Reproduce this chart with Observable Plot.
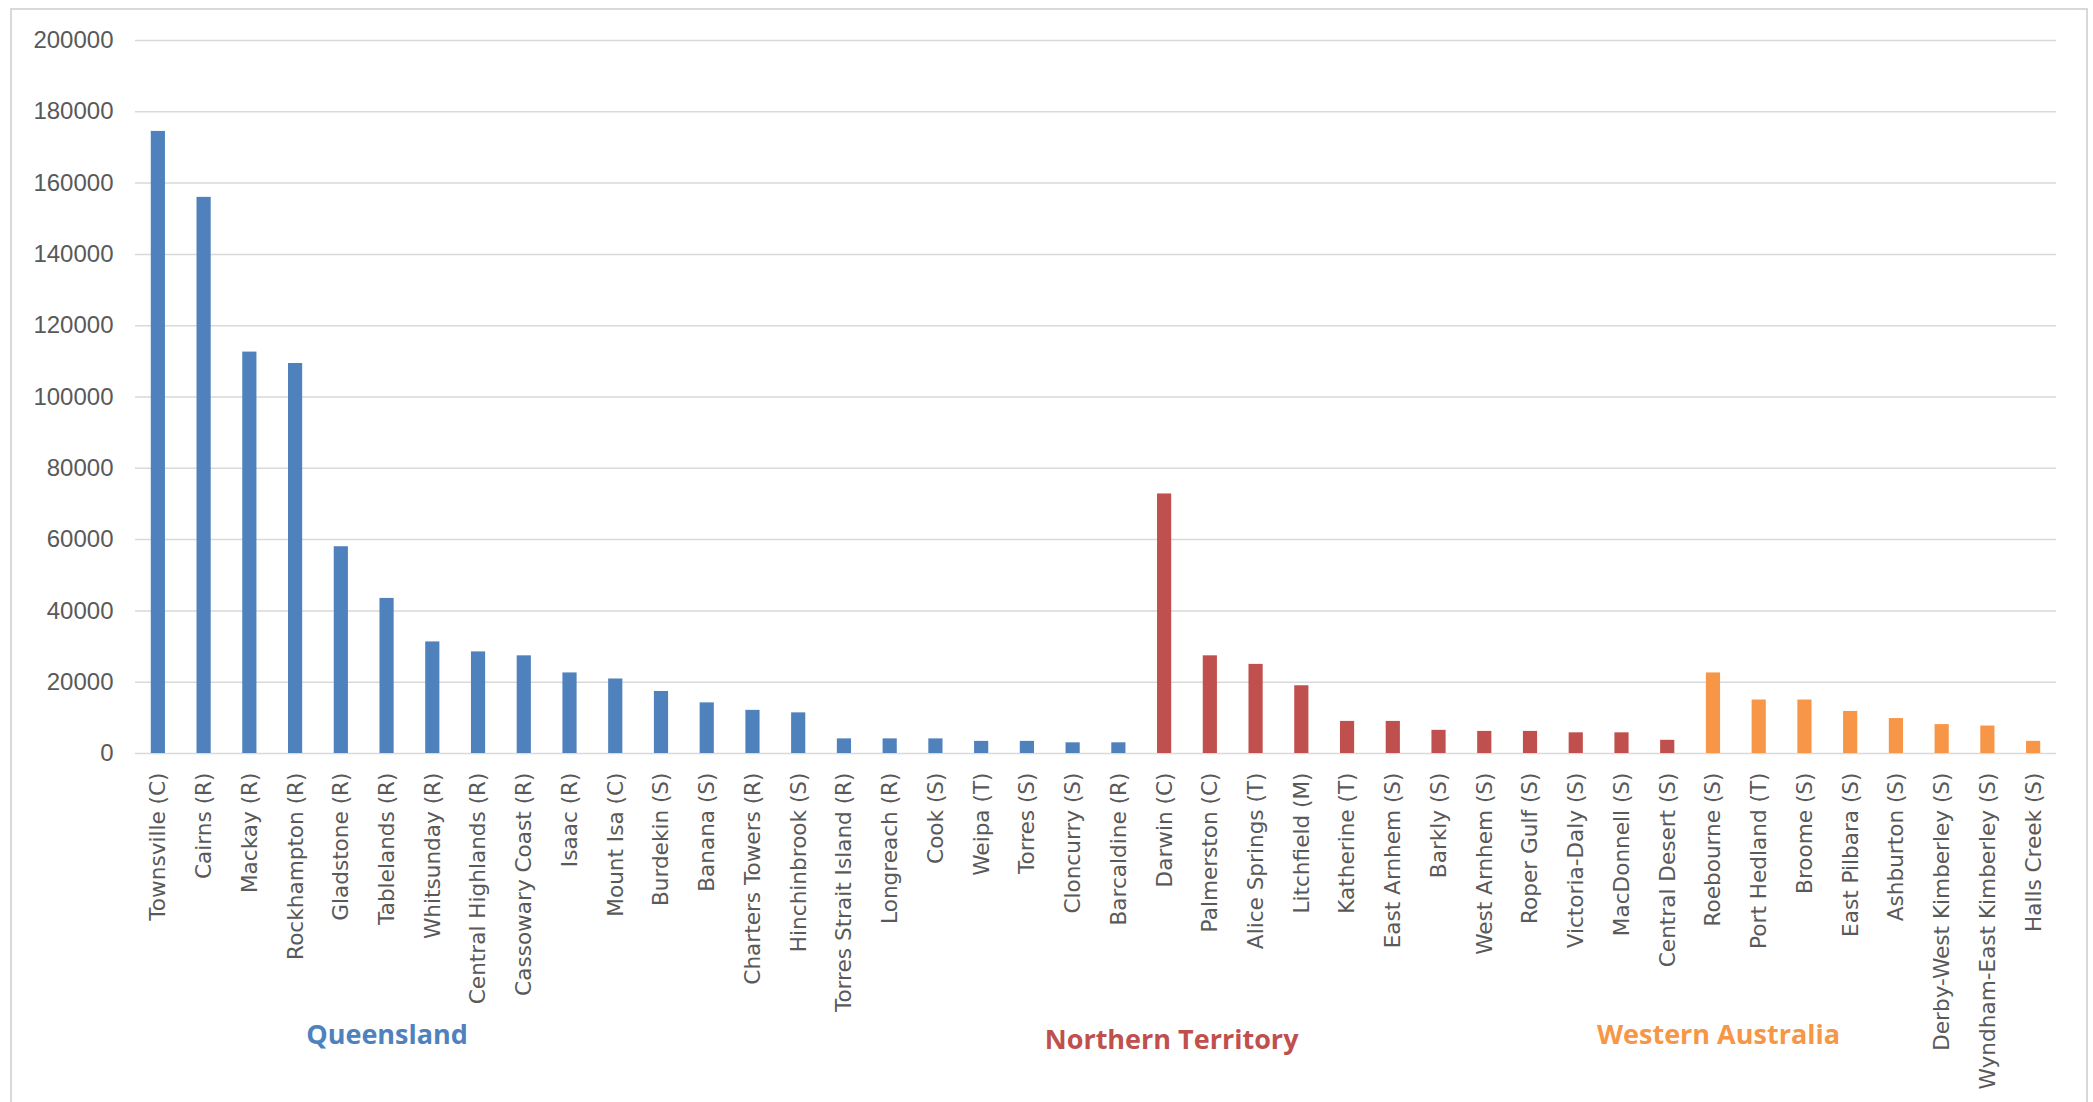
<!DOCTYPE html>
<html><head><meta charset="utf-8">
<script src="https://cdn.jsdelivr.net/npm/d3@7"></script>
<script src="https://cdn.jsdelivr.net/npm/@observablehq/plot@0.6"></script>
<style>
html,body{margin:0;padding:0;background:#fff;}
#wrap{position:relative;width:2093px;height:1102px;overflow:hidden;}
#wrap svg{position:absolute;left:0;top:0;}
#frame{position:absolute;left:10px;top:8px;width:2078px;height:1100px;border:2px solid #d9d9d9;box-sizing:border-box;pointer-events:none;}
</style></head><body><div id="wrap"><div id="frame"></div></div>
<script>
const qldNames = ["Townsville (C)","Cairns (R)","Mackay (R)","Rockhampton (R)","Gladstone (R)","Tablelands (R)","Whitsunday (R)","Central Highlands (R)","Cassowary Coast (R)","Isaac (R)","Mount Isa (C)","Burdekin (S)","Banana (S)","Charters Towers (R)","Hinchinbrook (S)","Torres Strait Island (R)","Longreach (R)","Cook (S)","Weipa (T)","Torres (S)","Cloncurry (S)","Barcaldine (R)"];
const qldValues = [174500,156000,112600,109400,58000,43500,31300,28500,27400,22600,20900,17400,14200,12100,11400,4100,4100,4100,3400,3400,3000,3000];
const ntNames = ["Darwin (C)","Palmerston (C)","Alice Springs (T)","Litchfield (M)","Katherine (T)","East Arnhem (S)","Barkly (S)","West Arnhem (S)","Roper Gulf (S)","Victoria-Daly (S)","MacDonnell (S)","Central Desert (S)"];
const ntValues = [72800,27400,25000,19000,9000,9000,6500,6200,6200,5800,5800,3700];
const waNames = ["Roebourne (S)","Port Hedland (T)","Broome (S)","East Pilbara (S)","Ashburton (S)","Derby-West Kimberley (S)","Wyndham-East Kimberley (S)","Halls Creek (S)"];
const waValues = [22600,15000,15000,11800,9800,8100,7700,3400];
const states = ["Queensland","Northern Territory","Western Australia"];
const stateColors = ["#4F81BD","#C0504D","#F79646"];
const yTicks = [0,20000,40000,60000,80000,100000,120000,140000,160000,180000,200000];

const groups = [[qldNames, qldValues], [ntNames, ntValues], [waNames, waValues]];
const data = groups.flatMap(([names, values], i) => names.map((name, j) => ({name, value: values[j], state: states[i]})));
const allNames = data.map(d => d.name);

const labelSpecs = [
  {state: states[0], at: qldNames[5], dx: 0, dy: 290},
  {state: states[1], at: ntNames[0], dx: 7, dy: 295},
  {state: states[2], at: waNames[0], dx: 5, dy: 290}
];

const chart = Plot.plot({
  width: 2093, height: 1102,
  marginLeft: 135, marginRight: 37, marginTop: 40, marginBottom: 349,
  x: {domain: allNames, paddingInner: 0.69, paddingOuter: 0.345, axis: null},
  y: {domain: [0, 200000], axis: null},
  color: {domain: states, range: stateColors},
  style: {background: "transparent", overflow: "visible"},
  marks: [
    Plot.ruleY(yTicks, {stroke: "#d9d9d9", strokeWidth: 1.5}),
    Plot.barY(data, {x: "name", y: "value", fill: "state"}),
    Plot.axisY({ticks: yTicks, tickSize: 0, tickPadding: 22, tickFormat: d => String(d), fontSize: 24, fontFamily: "Liberation Sans", color: "#595959", label: null}),
    Plot.axisX({tickRotate: -90, tickSize: 0, tickPadding: 19, fontSize: 21.6, fontFamily: "DejaVu Sans", color: "#595959", label: null}),
    ...labelSpecs.map(s => Plot.text([s], {x: "at", text: "state", fill: "state", frameAnchor: "bottom", dx: s.dx, dy: s.dy, fontSize: 27, fontWeight: "bold", fontFamily: "Open Sans"}))
  ]
});
document.getElementById("wrap").appendChild(chart);
</script>
</body></html>
